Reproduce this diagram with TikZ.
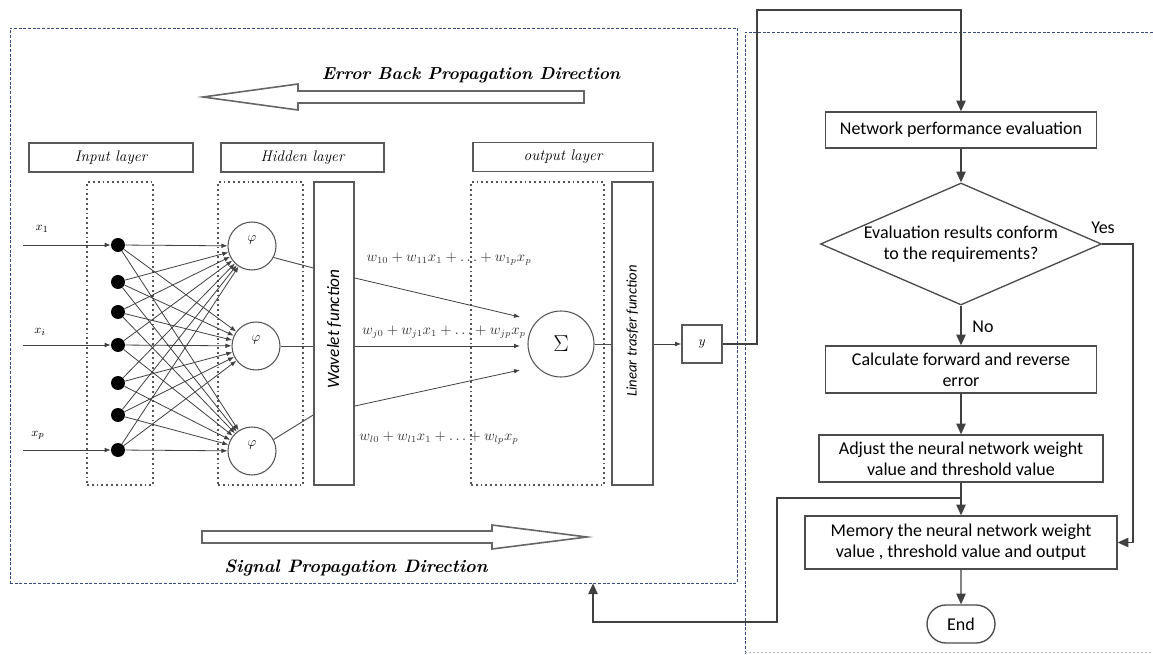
\documentclass[tikz,border=0pt]{standalone}
\usepackage{fontspec}
\newfontfamily\flowfont{Carlito}
\usetikzlibrary{shapes.geometric,shapes.misc,arrows.meta,calc}
\definecolor{framecol}{RGB}{55,75,125}
\definecolor{linecol}{RGB}{85,85,85}
\begin{document}
\begin{tikzpicture}[x=0.75pt,y=-0.75pt,
  frame/.style={draw=framecol, dash pattern=on 2.2pt off 1.3pt, line width=0.6pt, inner sep=0},
  lbl/.style={draw=black!65, line width=1.4pt, minimum height=29*0.75pt, inner sep=0,
     font=\fontsize{11.5}{13}\selectfont\itshape},
  dotbox/.style={draw=linecol, line width=1.3pt, dash pattern=on 1.4pt off 2.2pt, inner sep=0},
  vbox/.style={draw=black!65, line width=1.2pt, inner sep=0},
  neuron/.style={circle, fill=black, minimum size=10.5pt, inner sep=0},
  hid/.style={circle, draw=linecol, line width=0.8pt, minimum size=36pt, inner sep=0},
  net/.style={draw=black!75, line width=0.6pt, -{Latex[length=4.5pt,width=3.5pt]}},
  gline/.style={draw=black!70, line width=0.7pt},
  fbox/.style={draw=black!70, line width=1pt, font=\flowfont\fontsize{13.5}{16}\selectfont,
     align=center, inner sep=0},
  farrow/.style={draw=black!75, line width=1pt, -{Triangle[length=8pt,width=7pt]}},
  ftxt/.style={font=\flowfont\fontsize{13.5}{16}\selectfont},
  bigarrow/.style={draw=black!60, line width=1.2pt, fill=white},
  title/.style={font=\fontsize{13}{15}\selectfont\bfseries\itshape},
  formula/.style={font=\fontsize{10.5}{12}\selectfont, text=black!80},
  vtext/.style={rotate=90, font=\flowfont\itshape}
]
\useasboundingbox (0,0) rectangle (1153,655);

% frames
\node[frame, minimum width=727*0.75pt, minimum height=555*0.75pt] (lframe) at (373.5,305.5) {};
\draw[framecol, dash pattern=on 2.2pt off 1.3pt, line width=0.6pt] (1153,32) -- (745,32) -- (745,655);
\draw[framecol!40, dash pattern=on 1.5pt off 1.5pt, line width=0.5pt] (745,652) -- (1153,652);

% big direction arrows
\draw[bigarrow] (203,97) -- (298,84) -- (298,91) -- (584,91) -- (584,103) -- (298,103) -- (298,110) -- cycle;
\node[title] (errt) at (471,75) {Error Back Propagation Direction};
\draw[bigarrow] (202,531) -- (492,531) -- (492,525) -- (587,537) -- (492,549) -- (492,543) -- (202,543) -- cycle;
\node[title, font=\fontsize{13.5}{15}\selectfont\bfseries\itshape] (sigt) at (356,568) {Signal Propagation Direction};

% layer labels
\node[lbl, minimum width=164*0.75pt] (inlbl) at (111,157.5) {Input layer};
\node[lbl, minimum width=163*0.75pt] (hidlbl) at (302.5,157.5) {Hidden layer};
\node[lbl, minimum width=180*0.75pt] (outlbl) at (563,157) {output layer};

% layer boxes
\node[dotbox, minimum width=66*0.75pt, minimum height=303*0.75pt] (inbox) at (120,333.5) {};
\node[dotbox, minimum width=85*0.75pt, minimum height=303*0.75pt] (hidbox) at (260.5,333.5) {};
\node[dotbox, minimum width=133*0.75pt, minimum height=303*0.75pt] (outbox) at (537.5,333.5) {};
\node[vbox, minimum width=40*0.75pt, minimum height=303*0.75pt] (wav) at (334,333.5) {};
\node[vtext, font=\flowfont\itshape\fontsize{13}{15}\selectfont] (wavt) at (334,329) {Wavelet function};
\node[vbox, minimum width=41*0.75pt, minimum height=303*0.75pt] (lin) at (632.5,333.5) {};
\node[vtext, font=\flowfont\itshape\fontsize{11}{13}\selectfont] (lint) at (632.5,331) {Linear trasfer function};

% input neurons
\foreach \i/\yy in {1/245,2/282,3/312,4/345,5/383,6/415,7/450}
  \node[neuron] (n\i) at (118,\yy) {};
% hidden neurons
\node[hid] (h1) at (252,246) {};
\node[hid] (h2) at (256,346) {};
\node[hid] (h3) at (252,451) {};
\foreach \j in {1,2,3}
  \node[font=\fontsize{10}{12}\selectfont] (phi\j) at ($(h\j)+(0,-6)$) {$\varphi$};

% inputs
\coordinate (in1) at (23,245);
\coordinate (in2) at (23,345);
\coordinate (in3) at (23,450);
\draw[net] (in1) -- (n1);
\draw[net] (in2) -- (n4);
\draw[net] (in3) -- (n7);
\node[font=\fontsize{9.5}{11}\selectfont] (x1) at (42,229) {$x_1$};
\node[font=\fontsize{9.5}{11}\selectfont] (xi) at (40,332) {$x_i$};
\node[font=\fontsize{9.5}{11}\selectfont] (xp) at (38,435) {$x_p$};

% full connections
\foreach \i in {1,...,7}
  \foreach \j in {1,2,3}
    \draw[net] (n\i) -- (h\j);

% sigma
\node[circle, draw=linecol, line width=0.8pt, minimum size=49.5pt, inner sep=0,
      font=\fontsize{17}{19}\selectfont] (sigma) at (561,344) {$\Sigma$};
\coordinate (s1in) at (520,317);
\coordinate (s2in) at (520,346);
\coordinate (s3in) at (520,370);
\draw[gline] (h1.-28) -- (wav.west |- 0,268);
\draw[net] (wav.east |- 0,278) -- (s1in);
\draw[gline] (h2.east) -- (wav.west |- h2);
\draw[net] (wav.east |- h2) -- (s2in);
\draw[gline] (h3.28) -- (wav.west |- 0,415);
\draw[net] (wav.east |- 0,406) -- (s3in);

\node[formula] (f1) at (449,259) {$w_{10}+w_{11}x_1+\dots+w_{1p}x_p$};
\node[formula] (f2) at (444,332) {$w_{j0}+w_{j1}x_1+\dots+w_{jp}x_p$};
\node[formula] (f3) at (439,438) {$w_{l0}+w_{l1}x_1+\dots+w_{lp}x_p$};

% output
\node[vbox, minimum width=40*0.75pt, minimum height=38*0.75pt, font=\fontsize{10}{12}\selectfont] (ybox) at (702,344) {$y$};
\draw[gline] (sigma.east) -- (lin.west |- sigma);
\draw[net] (lin.east |- ybox) -- (ybox.west);

% flowchart
\node[fbox, minimum width=271*0.75pt, minimum height=36*0.75pt] (net) at (961,130) {Network performance evaluation};
\node[fbox, diamond, aspect=2.3, minimum width=281*0.75pt, minimum height=122*0.75pt] (dia) at (961,244)
  {Evaluation results conform\\to the requirements?};
\node[fbox, minimum width=271*0.75pt, minimum height=47*0.75pt] (calc) at (961,369.5)
  {Calculate forward and reverse\\error};
\node[fbox, minimum width=284*0.75pt, minimum height=47*0.75pt] (adjust) at (961,458.5)
  {Adjust the neural network weight\\value and threshold value};
\node[fbox, minimum width=312*0.75pt, minimum height=53*0.75pt] (mem) at (961,542.5)
  {Memory the neural network weight\\value , threshold value and output};
\node[fbox, rounded rectangle, minimum width=68*0.75pt, minimum height=38*0.75pt] (end) at (961,624) {End};

\coordinate (t1) at (757,10);
\draw[farrow] (ybox.east) -| (t1) -| (net.north);
\draw[farrow] (net) -- (dia);
\draw[farrow] (dia) -- (calc);
\node[ftxt] (nolbl) at (983,327) {No};
\draw[farrow] (calc) -- (adjust);
\draw[farrow] (adjust) -- (mem);
\draw[farrow] (mem) -- (end);
\coordinate (yc) at (1133,244);
\draw[farrow] (dia.east) -- (yc) |- (mem.east);
\node[ftxt] (yeslbl) at (1103,228) {Yes};

\coordinate (j1) at (961,498);
\coordinate (lp1) at (777,498);
\coordinate (lp2) at (777,622);
\coordinate (lp3) at (593,622);
\draw[farrow] (j1) -- (lp1) -- (lp2) -- (lp3) -- (lp3 |- lframe.south);
\end{tikzpicture}
\end{document}
